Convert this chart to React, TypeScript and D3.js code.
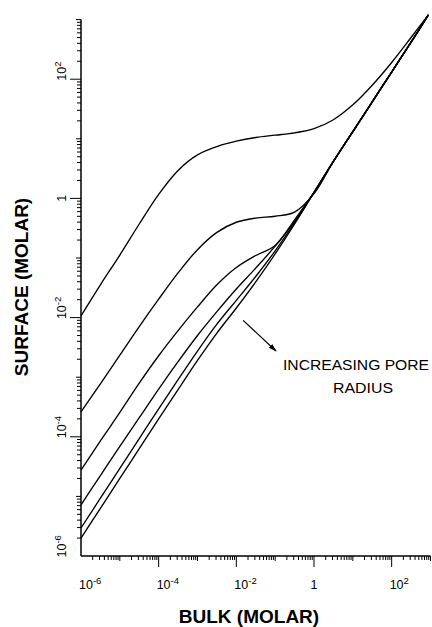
import { useMemo } from 'react';
import * as d3 from 'd3';

// bulk concentration (molar), half-decade steps read along the x axis
const bulk = [1e-6, 3.16e-6, 1e-5, 3.16e-5, 1e-4, 3.16e-4, 1e-3, 3.16e-3, 1e-2, 3.16e-2, 0.1, 0.316, 1, 3.16, 10, 31.6, 100, 316, 880];

// surface concentration (molar) for each pore radius, smallest pore first
const surface1 = [1.07e-2, 3.55e-2, 0.112, 0.372, 1.17, 2.95, 5.37, 7.41, 9.12, 10.5, 11.5, 12.6, 14.8, 20.9, 37.2, 79.4, 191, 501, 1202];
const surface2 = [2.63e-4, 7.76e-4, 2.34e-3, 7.08e-3, 2.04e-2, 5.62e-2, 0.138, 0.269, 0.398, 0.468, 0.501, 0.589, 1.2, 4.17, 13.2, 41.7, 132, 417, 1202];
const surface3 = [2.75e-5, 8.51e-5, 2.57e-4, 7.94e-4, 2.29e-3, 6.03e-3, 1.51e-2, 3.55e-2, 6.92e-2, 0.11, 0.162, 0.437, 1.26, 4.17, 13.2, 41.7, 132, 417, 1202];
const surface4 = [7.24e-6, 2.24e-5, 6.92e-5, 2.09e-4, 6.31e-4, 1.82e-3, 5.01e-3, 1.26e-2, 3.02e-2, 6.76e-2, 0.158, 0.407, 1.26, 4.17, 13.2, 41.7, 132, 417, 1202];
const surface5 = [2.95e-6, 9.33e-6, 2.95e-5, 9.33e-5, 2.95e-4, 9.12e-4, 2.75e-3, 7.76e-3, 1.95e-2, 4.9e-2, 0.132, 0.389, 1.26, 4.17, 13.2, 41.7, 132, 417, 1202];
const surface6 = [2.0e-6, 6.31e-6, 2.0e-5, 6.31e-5, 2.0e-4, 6.17e-4, 1.91e-3, 5.5e-3, 1.45e-2, 3.98e-2, 0.117, 0.372, 1.26, 4.17, 13.2, 41.7, 132, 417, 1202];

const curves = [surface1, surface2, surface3, surface4, surface5, surface6];

// labelled decades
const majorTicks = [1e-6, 1e-4, 1e-2, 1, 1e2];
const majorBase = ['10', '10', '10', '1', '10'];
const majorExp = ['-6', '-4', '-2', '', '2'];

const width = 432;
const height = 627;
const plot = { left: 81, right: 430.5, top: 19.6, bottom: 556 };

const labelFont = '"Liberation Sans", Arial, sans-serif';

const App = () => {
  const x = useMemo(() => d3.scaleLog().domain([1e-6, 1e3]).range([plot.left, plot.right]), []);
  const y = useMemo(() => d3.scaleLog().domain([1e-6, 1e3]).range([plot.bottom, plot.top]), []);

  const paths = useMemo(() => {
    const line = d3.line<number>()
      .x((_, i) => x(bulk[i]))
      .y((d) => y(d))
      .curve(d3.curveCatmullRom.alpha(0.5));
    return curves.map((c) => line(c));
  }, [x, y]);

  const isDecade = (t: number) => Math.abs(Math.log10(t) - Math.round(Math.log10(t))) < 1e-9;
  const isMajor = (t: number) => majorTicks.some((m) => Math.abs(Math.log10(m) - Math.log10(t)) < 1e-9);
  const tickLen = (t: number) => (isMajor(t) ? 11 : isDecade(t) ? 5 : 4);

  const xTicks = x.ticks();
  const yTicks = y.ticks();

  // arrow pointing across the curves
  const arrowFrom: [number, number] = [x(1.5e-2), y(9e-3)];
  const arrowTo: [number, number] = [x(1.05e-1), y(2.75e-3)];

  return (
    <svg width={width} height={height} style={{ position: 'absolute', left: 0, top: 0, background: '#fff' }}>
      <defs>
        <marker id="arrowhead" viewBox="0 0 10 10" refX="9" refY="5" markerWidth="7" markerHeight="7" orient="auto">
          <path d="M0,2 L10,5 L0,8 Z" fill="#000" />
        </marker>
      </defs>

      {/* curves */}
      <g fill="none" stroke="#000" strokeWidth={1.35}>
        {paths.map((p, i) => <path key={i} d={p ?? ''} />)}
      </g>

      {/* x axis */}
      <g stroke="#000">
        <line x1={plot.left} x2={plot.right} y1={plot.bottom} y2={plot.bottom} strokeWidth={1.5} />
        {xTicks.filter((t) => t > 1e-6).map((t, i) => (
          <line key={i} x1={x(t)} x2={x(t)} y1={plot.bottom} y2={plot.bottom + tickLen(t)} strokeWidth={1} />
        ))}
      </g>
      <g fontFamily={labelFont} fontSize={12.5} fill="#000">
        {majorTicks.map((t, i) => (
          <text key={i} x={x(t) + (majorExp[i] ? -2 : 0)} y={589} textAnchor={majorExp[i] ? 'start' : 'middle'}>
            {majorBase[i]}
            {majorExp[i] && <tspan fontSize={9.5} dy={-5}>{majorExp[i]}</tspan>}
          </text>
        ))}
      </g>

      {/* y axis */}
      <g stroke="#000">
        <line x1={plot.left} x2={plot.left} y1={plot.bottom} y2={plot.top} strokeWidth={1.5} />
        {yTicks.filter((t) => t > 1e-6).map((t, i) => (
          <line key={i} x1={plot.left} x2={plot.left - tickLen(t)} y1={y(t)} y2={y(t)} strokeWidth={1} />
        ))}
      </g>
      <g fontFamily={labelFont} fontSize={12.5} fill="#000">
        {majorTicks.map((t, i) => (
          <text
            key={i}
            transform={`translate(66,${y(t) + (majorExp[i] ? 1.5 : 0)}) rotate(-90)`}
            textAnchor={majorExp[i] ? 'start' : 'middle'}
          >
            {majorBase[i]}
            {majorExp[i] && <tspan fontSize={9.5} dy={-5}>{majorExp[i]}</tspan>}
          </text>
        ))}
      </g>

      {/* axis titles */}
      <text x={249} y={623} textAnchor="middle" fontFamily={labelFont} fontWeight="bold" fontSize={19}>
        BULK (MOLAR)
      </text>
      <text transform="translate(28,287) rotate(-90)" textAnchor="middle" fontFamily={labelFont} fontWeight="bold" fontSize={19}>
        SURFACE (MOLAR)
      </text>

      {/* annotation */}
      <line x1={arrowFrom[0]} y1={arrowFrom[1]} x2={arrowTo[0]} y2={arrowTo[1]} stroke="#000" strokeWidth={1.2} markerEnd="url(#arrowhead)" />
      <g fontFamily={labelFont} fontSize={15} fill="#000">
        <text x={283} y={370} textLength={146} lengthAdjust="spacingAndGlyphs">INCREASING PORE</text>
        <text x={333} y={393} textLength={60} lengthAdjust="spacingAndGlyphs">RADIUS</text>
      </g>
    </svg>
  );
};

export default App;
